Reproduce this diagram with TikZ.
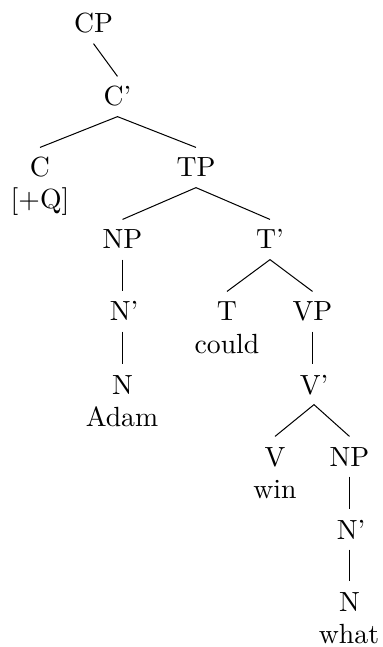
\documentclass[tikz,border=0pt]{standalone}
\begin{document}
\begin{tikzpicture}[x=0.395pt,y=-0.395pt,
  font=\fontsize{10.95}{13.6}\selectfont,
  cat/.style={anchor=base, text height=7.48pt, text depth=0pt, inner sep=4pt},
  word/.style={anchor=base, inner sep=0pt},
  branch/.style={line width=0.4pt}]
\useasboundingbox (0,0) rectangle (382,647);
% categories (base lines)
\node[cat] (cp)    at (93.5,33)   {CP};
\node[cat] (cbar)  at (117.5,106) {C'};
\node[cat] (c)     at (40,177)    {C};
\node[cat] (tp)    at (196,177)   {TP};
\node[cat] (np)    at (122.5,249) {NP};
\node[cat] (tbar)  at (270,249)   {T'};
\node[cat] (nbar)  at (124,321)   {N'};
\node[cat] (t)     at (227,321)   {T};
\node[cat] (vp)    at (312.5,321) {VP};
\node[cat] (n)     at (122.5,394) {N};
\node[cat] (vbar)  at (314,394)   {V'};
\node[cat] (v)     at (275,466)   {V};
\node[cat] (npo)   at (349.5,466) {NP};
\node[cat] (nbaro) at (351,539)   {N'};
\node[cat] (no)    at (349.5,611) {N};
% lexical items
\node[word] (q)     at (40,209)  {[+Q]};
\node[word] (could) at (227,353) {could};
\node[word] (adam)  at (122,426) {Adam};
\node[word] (win)   at (275,498) {win};
\node[word] (what)  at (349,643) {what};
% branches
\draw[branch] (cp.south) -- (cbar.north);
\draw[branch] (c.north) -- (cbar.south) -- (tp.north);
\draw[branch] (np.north) -- (tp.south) -- (tbar.north);
\draw[branch] (np.south) -- (np.south |- nbar.north);
\draw[branch] (n.north |- nbar.south) -- (n.north);
\draw[branch] (t.north) -- (tbar.south) -- (vp.north);
\draw[branch] (vp.south) -- (vp.south |- vbar.north);
\draw[branch] (v.north) -- (vbar.south) -- (npo.north);
\draw[branch] (npo.south) -- (npo.south |- nbaro.north);
\draw[branch] (no.north |- nbaro.south) -- (no.north);
\end{tikzpicture}
\end{document}
